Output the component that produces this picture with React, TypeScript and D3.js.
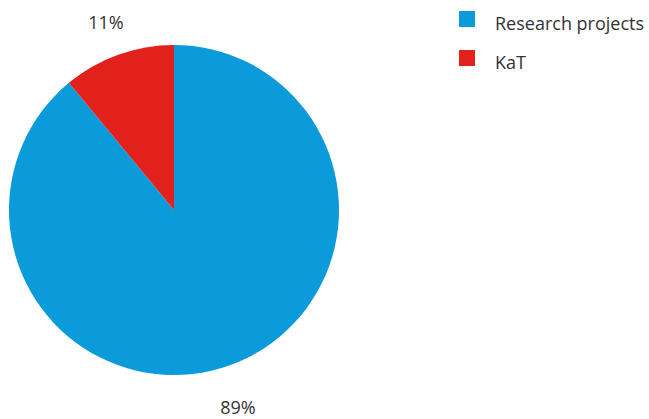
import React from "react";
import * as d3 from "d3";

const categories = ["Research projects", "KaT"];
const values = [89, 11];
const labels = ["89%", "11%"];
const colors = ["#0b9bdb", "#e3211c"];

export default function App() {
  const W = 649, H = 419;
  const cx = 174, cy = 210, r = 165;
  const pie = d3.pie<number>().sort(null).startAngle(0).endAngle(2 * Math.PI);
  const arcs = pie(values);
  const arc = d3.arc<d3.PieArcDatum<number>>().innerRadius(0).outerRadius(r);
  const labelPos = [
    { x: 238, y: 414 },
    { x: 106, y: 29 },
  ];
  return (
    <svg width={W} height={H} style={{ position: "absolute", left: 0, top: 0, background: "#fff" }}
      fontFamily="'Open Sans', sans-serif">
      <g transform={`translate(${cx},${cy})`}>
        {arcs.map((a, i) => (
          <path key={i} d={arc(a) || ""} fill={colors[i]} />
        ))}
      </g>
      {labels.map((l, i) => (
        <text key={i} x={labelPos[i].x} y={labelPos[i].y} textAnchor="middle" fontSize={18} fill="#333">{l}</text>
      ))}
      {categories.map((c, i) => (
        <g key={c} transform={`translate(459,${11 + i * 39})`}>
          <rect width={16} height={16} fill={colors[i]} />
          <text x={36} y={19} fontSize={18} fill="#333">{c}</text>
        </g>
      ))}
    </svg>
  );
}
